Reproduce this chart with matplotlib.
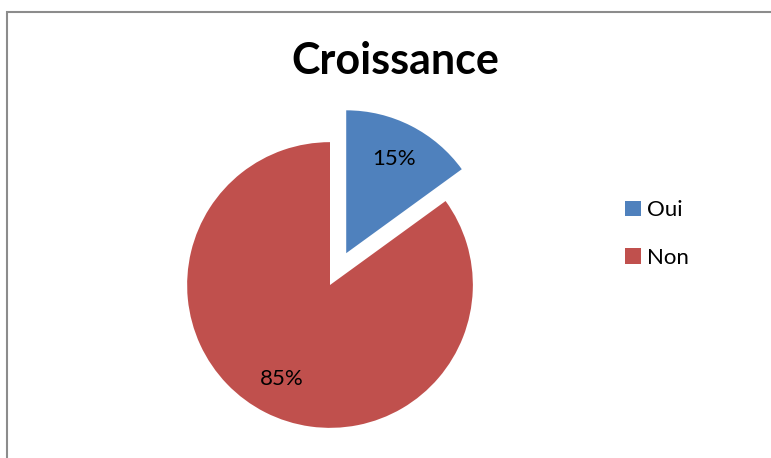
import matplotlib
matplotlib.use("Agg")
import matplotlib.pyplot as plt
from matplotlib.patches import Rectangle, Patch

labels = ["Oui", "Non"]
values = [15, 85]
colors = ["#4F81BD", "#C0504D"]
explode = [0.25, 0]
title = "Croissance"

plt.rcParams['font.family'] = ['Lato', 'DejaVu Sans']

W, H = 771, 458
fig = plt.figure(figsize=(W / 100, H / 100), dpi=100)

# axes placed so that the pie centre sits at (330, 285) px, radius ~143 px
ax = fig.add_axes([130 / W, (H - 485) / H, 400 / W, 400 / H])
wedges, texts, autotexts = ax.pie(values, colors=colors, explode=explode,
                                  startangle=90, counterclock=False,
                                  autopct='%1.0f%%', pctdistance=0.74,
                                  textprops={'fontsize': 16, 'color': 'black'})
ax.set_xlim(-1.4, 1.4)
ax.set_ylim(-1.4, 1.4)
ax.set_aspect('equal')
ax.axis('off')

fig.text(395 / W, 1 - 61 / H, title, ha='center', va='center',
         fontsize=31, fontweight='bold')

handles = [Patch(facecolor=c, edgecolor='none') for c in colors]
fig.legend(handles, labels, loc='center left', bbox_to_anchor=(605 / W, 1 - 234 / H),
           frameon=False, fontsize=16, handlelength=0.7, handleheight=0.7,
           handletextpad=0.3, labelspacing=1.25)

# chart border (only left and top are visible in the crop)
fig.patches.append(Rectangle((7 / W, -0.1), 1.2, (H - 12) / H + 0.1,
                             transform=fig.transFigure, fill=False,
                             edgecolor='#8c8c8c', linewidth=1.5))

fig.savefig("out.png", dpi=100)
